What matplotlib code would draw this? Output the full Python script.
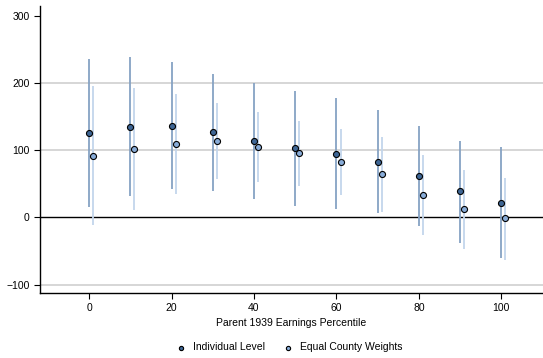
import matplotlib
matplotlib.use("Agg")
from matplotlib import pyplot as plt

plt.rcParams['font.family'] = ['Liberation Sans', 'DejaVu Sans']

percentil = [0, 10, 20, 30, 40, 50, 60, 70, 80, 90, 100]

# Individual Level
ind_est = [125, 134.6, 136, 126.7, 113, 102.5, 94.5, 82.6, 61.4, 38.6, 21.7]
ind_alto = [235, 238.6, 231, 213, 199.5, 188, 177, 159, 135.7, 114, 104]
ind_bajo = [16, 31.6, 41.6, 39.5, 27, 17, 12, 6, -13, -38, -61]

# Equal County Weights
eq_est = [91.5, 102, 109, 113, 105, 95, 82.6, 64, 33.6, 12.3, -1.5]
eq_alto = [195, 192.6, 184, 170, 157, 143, 132, 119, 92, 71, 59]
eq_bajo = [-11, 11, 34.6, 57, 52, 46.5, 32.7, 8, -26, -47, -63]

x_eq = [p + 1 for p in percentil]

fig = plt.figure(figsize=(5.43, 3.58), dpi=100)
ax = fig.add_axes([0.0737, 0.1816, 0.9263, 0.8014])

for y in [-100, 100, 200]:
    ax.axhline(y, color='#cfcfcf', lw=1.2, zorder=0)
ax.axhline(0, color='black', lw=1.0, zorder=1)

ax.vlines(percentil, ind_bajo, ind_alto, color='#86a2c4', lw=1.3, zorder=2)
ax.vlines(x_eq, eq_bajo, eq_alto, color='#c3d5ec', lw=1.3, zorder=2)

ax.scatter(percentil, ind_est, s=19, color='#3e6695', edgecolors='black',
           linewidths=0.8, zorder=3, label='Individual Level')
ax.scatter(x_eq, eq_est, s=19, color='#88acd8', edgecolors='black',
           linewidths=0.8, zorder=3, label='Equal County Weights')

ax.set_xlim(-11.9, 110.1)
ax.set_ylim(-112.5, 314)
ax.set_xticks([0, 20, 40, 60, 80, 100])
ax.set_yticks([-100, 0, 100, 200, 300])
ax.tick_params(axis='both', direction='out', length=4, width=0.8,
               labelsize=7.5, colors='black')
for s in ['top', 'right']:
    ax.spines[s].set_visible(False)
for s in ['left', 'bottom']:
    ax.spines[s].set_linewidth(1.0)

ax.set_xlabel('Parent 1939 Earnings Percentile', fontsize=7.5, labelpad=3)

fig.legend(loc='center', bbox_to_anchor=(0.528, 0.03), ncol=2, frameon=False,
           fontsize=7.5, markerscale=0.7, handletextpad=0.2, columnspacing=1.15)

fig.savefig('out.png', dpi=100)
